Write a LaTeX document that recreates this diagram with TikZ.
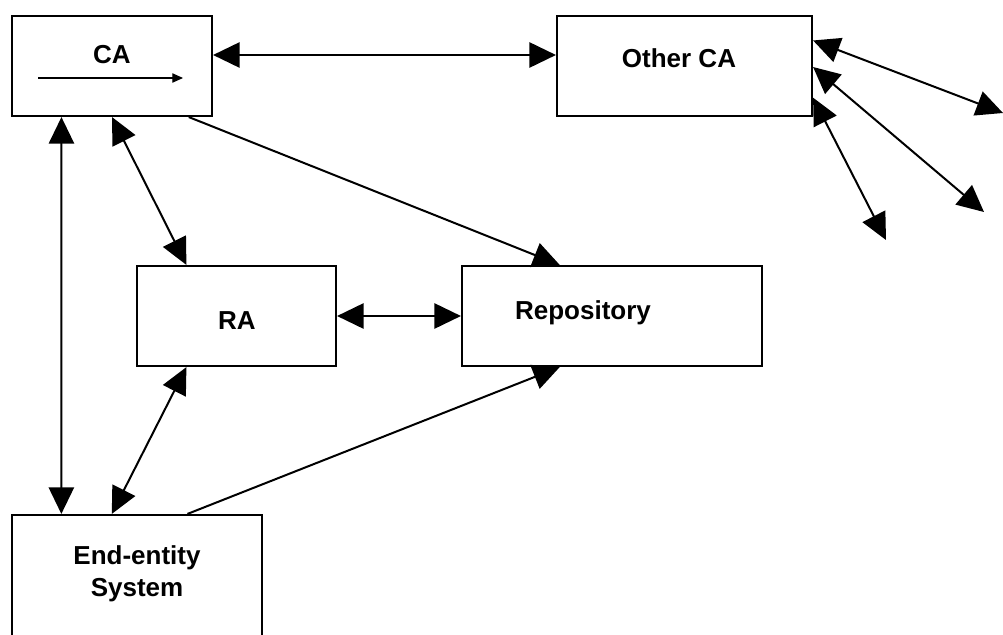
\documentclass[tikz,border=0pt]{standalone}
\usepackage{fontspec}
\setmainfont{Liberation Sans}
\usetikzlibrary{arrows.meta,calc}
\begin{document}
\begin{tikzpicture}[x=0.75pt,y=-0.75pt,
  box/.style={draw,line width=1.6pt,inner sep=0pt,minimum height=75pt},
  lbl/.style={font=\fontsize{19.5}{24}\selectfont\bfseries,inner sep=0pt,align=center},
  oneway/.style={line width=1.5pt,-{Triangle[length=20pt,width=19pt]}},
  twoway/.style={line width=1.5pt,{Triangle[length=20pt,width=19pt]}-{Triangle[length=20pt,width=19pt]}},
  thin arrow/.style={line width=0.8pt,-{Triangle[length=8pt,width=7pt]}}
]
\clip (0,0) rectangle (1003,635);
\useasboundingbox (0,0) rectangle (1003,635);

% boxes
\node[box,minimum width=150pt]    (ca)   at (112,66)    {};
\node[box,minimum width=191.25pt] (oca)  at (684.5,66)  {};
\node[box,minimum width=149.25pt] (ra)   at (236.5,316) {};
\node[box,minimum width=225pt]    (repo) at (612,316)   {};
\node[box,minimum width=187.5pt,minimum height=97.5pt] (ee) at (137,580) {};

% labels
\node[lbl] (catxt)   at (112,55)  {CA};
\node[lbl] (ocatxt)  at (679,58)  {Other CA};
\node[lbl] (ratxt)   at (237,321) {RA};
\node[lbl] (repotxt) at (583,313) {Repository};
\node[lbl] (eetxt)   at (137,574) {End-entity\\System};

% small arrow inside the CA box
\coordinate (cain1) at (38,78);
\coordinate (cain2) at (183,78);
\draw[thin arrow] (cain1) -- (cain2);

% connectors
\draw[twoway] (ca.east |- catxt) -- (oca.west |- catxt);
\draw[oneway] ($(ca.south west)!0.88!(ca.south east)$) -- ($(repo.north west)!0.327!(repo.north east)$);
\draw[twoway] ($(ca.south west)!0.5!(ca.south east)$) -- ($(ra.north west)!0.251!(ra.north east)$);
\draw[twoway] ($(ca.south west)!0.25!(ca.south east)$) -- ($(ee.north west)!0.2!(ee.north east)$);
\draw[twoway] (ra.east) -- (repo.west);
\draw[twoway] ($(ra.south west)!0.251!(ra.south east)$) -- ($(ee.north west)!0.4!(ee.north east)$);
\draw[oneway] ($(ee.north west)!0.7!(ee.north east)$) -- ($(repo.south west)!0.327!(repo.south east)$);

% links from Other CA to further parties
\coordinate (ext1) at (1003,113);
\coordinate (ext2) at (984,212);
\coordinate (ext3) at (886,240);
\draw[twoway] ($(oca.north east)!0.25!(oca.south east)$) -- (ext1);
\draw[twoway] ($(oca.north east)!0.51!(oca.south east)$) -- (ext2);
\draw[twoway] ($(oca.north east)!0.81!(oca.south east)$) -- (ext3);
\end{tikzpicture}
\end{document}
